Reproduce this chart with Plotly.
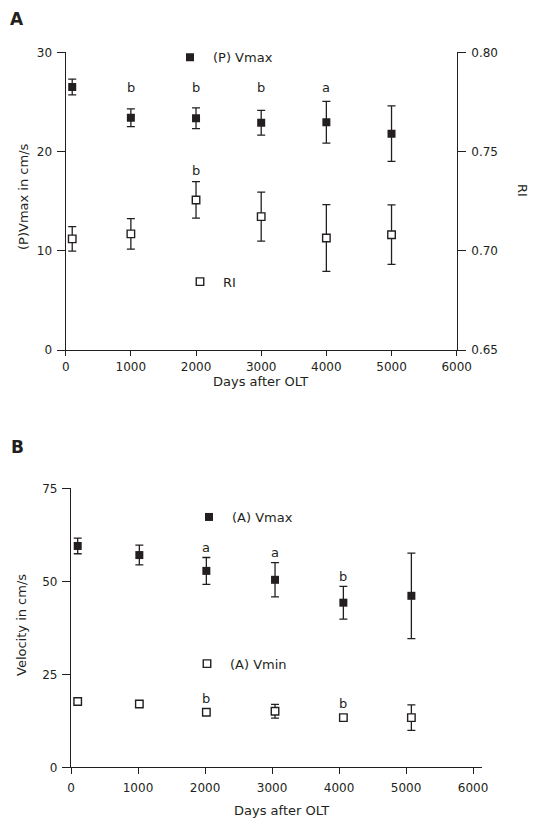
import plotly.graph_objects as go

# ---------------- data ----------------
# Panel A
a_days = [100, 1000, 2000, 3000, 4000, 5000]
p_vmax = [26.5, 23.4, 23.35, 22.9, 22.95, 21.8]
p_vmax_err = [0.8, 0.9, 1.05, 1.25, 2.1, 2.8]
p_vmax_sig = ["", "b", "b", "b", "a", ""]
ri = [0.706, 0.7085, 0.7256, 0.7172, 0.7064, 0.7081]
ri_err = [0.0062, 0.0077, 0.0092, 0.0123, 0.0168, 0.015]
ri_sig = ["", "", "b", "", "", ""]

# Panel B
b_days = [100, 1020, 2020, 3045, 4065, 5080]
a_vmax = [59.5, 57.05, 52.8, 50.4, 44.25, 46.1]
a_vmax_err = [2.1, 2.65, 3.6, 4.6, 4.4, 11.5]
a_vmax_sig = ["", "", "a", "a", "b", ""]
a_vmin = [17.7, 17.0, 14.8, 15.05, 13.35, 13.35]
a_vmin_err = [0.5, 0.5, 0.5, 1.85, 0.5, 3.45]
a_vmin_sig = ["", "", "b", "", "b", ""]

x_ticks = [0, 1000, 2000, 3000, 4000, 5000, 6000]
a_left_ticks = [0, 10, 20, 30]
a_right_ticks = [0.65, 0.70, 0.75, 0.80]
b_left_ticks = [0, 25, 50, 75]

# ---------------- style ----------------
# the page body has an 8px default margin; the figure is sized to fill the
# remaining window and positions below are given in window pixels
OFF = 8
W, H = 543 - OFF, 824 - OFF
INK = "#231f20"
FONT = "DejaVu Sans"


def px_x(p):
    return (p - OFF) / W


def px_y(p):
    return 1 - (p - OFF) / H


def err(vals):
    return dict(type="data", array=vals, visible=True, color=INK, thickness=1.3, width=4)


filled = dict(symbol="square", size=8, color=INK, line=dict(width=0))
hollow = dict(symbol="square", size=7.5, color="white", line=dict(width=1.4, color=INK))

fig = go.Figure()
fig.add_trace(go.Scatter(x=a_days, y=p_vmax, mode="markers", marker=filled,
                         error_y=err(p_vmax_err), name="(P) Vmax",
                         xaxis="x", yaxis="y", legend="legend"))
fig.add_trace(go.Scatter(x=a_days, y=ri, mode="markers", marker=hollow,
                         error_y=err(ri_err), name="RI",
                         xaxis="x", yaxis="y2", legend="legend2"))
fig.add_trace(go.Scatter(x=b_days, y=a_vmax, mode="markers", marker=filled,
                         error_y=err(a_vmax_err), name="(A) Vmax",
                         xaxis="x2", yaxis="y3", legend="legend3"))
fig.add_trace(go.Scatter(x=b_days, y=a_vmin, mode="markers", marker=hollow,
                         error_y=err(a_vmin_err), name="(A) Vmin",
                         xaxis="x2", yaxis="y3", legend="legend4"))

annotations = []


def add_sig(xs, ys, es, sig, xref, yref, shift, common=False):
    tops = [y + e for y, e in zip(ys, es)]
    flagged = [t for t, s in zip(tops, sig) if s]
    level = max(flagged) if flagged else 0
    for x, t, s in zip(xs, tops, sig):
        if not s:
            continue
        annotations.append(dict(x=x, y=level if common else t, xref=xref, yref=yref,
                                text=s, showarrow=False, yanchor="middle",
                                yshift=shift, font=dict(size=13, color=INK, family=FONT)))


add_sig(a_days, p_vmax, p_vmax_err, p_vmax_sig, "x", "y", 13.5, common=True)
add_sig(a_days, ri, ri_err, ri_sig, "x", "y2", 11.5)
add_sig(b_days, a_vmax, a_vmax_err, a_vmax_sig, "x2", "y3", 10)
add_sig(b_days, a_vmin, a_vmin_err, a_vmin_sig, "x2", "y3", 12)


def text(px, py, s, size=13, angle=0, bold=False):
    annotations.append(dict(x=px_x(px), y=px_y(py), xref="paper", yref="paper",
                            text=f"<b>{s}</b>" if bold else s, showarrow=False,
                            textangle=angle, xanchor="center", yanchor="middle",
                            font=dict(size=size, color=INK, family=FONT)))


text(17, 19, "A", size=17, bold=True)
text(17, 447, "B", size=17, bold=True)
text(23, 197, "(P)Vmax in cm/s", angle=-90)
text(523, 190, "RI", angle=90)
text(260, 382, "Days after OLT")
text(21, 625, "Velocity in cm/s", angle=-90)
text(281, 810, "Days after OLT")

axis_common = dict(showline=True, linecolor=INK, linewidth=1.3, ticks="outside",
                   tickcolor=INK, tickwidth=1.3, showgrid=False, zeroline=False,
                   tickfont=dict(size=12, color=INK, family=FONT), automargin=False)

legend_common = dict(bgcolor="rgba(0,0,0,0)", borderwidth=0, xanchor="left",
                     yanchor="middle", itemwidth=36,
                     font=dict(size=13, color=INK, family=FONT))

fig.update_layout(
    width=W, height=H, margin=dict(l=0, r=0, t=0, b=0),
    paper_bgcolor="white", plot_bgcolor="white", showlegend=True,
    xaxis=dict(domain=[px_x(65.7), px_x(456.7)], range=[0, 6000], anchor="y",
               tickvals=x_ticks, ticklen=5, ticklabelstandoff=0, **axis_common),
    yaxis=dict(domain=[px_y(350), px_y(52.3)], range=[0, 30], anchor="x",
               tickvals=a_left_ticks, ticklen=8, ticklabelstandoff=2, **axis_common),
    yaxis2=dict(range=[0.65, 0.80], overlaying="y", side="right", anchor="x",
                tickvals=a_right_ticks, tickformat=".2f", ticklen=8,
                ticklabelstandoff=3, **axis_common),
    xaxis2=dict(domain=[px_x(71), px_x(482)], range=[0, 6134], anchor="y3",
                tickvals=x_ticks, ticklen=6, ticklabelstandoff=3, **axis_common),
    yaxis3=dict(domain=[px_y(767.3), px_y(488.3)], range=[0, 75], anchor="x2",
                tickvals=b_left_ticks, ticklen=8, ticklabelstandoff=2, **axis_common),
    legend=dict(x=px_x(167), y=px_y(57.3), **legend_common),
    legend2=dict(x=px_x(177), y=px_y(281.7), **legend_common),
    legend3=dict(x=px_x(186), y=px_y(517), **legend_common),
    legend4=dict(x=px_x(184), y=px_y(663.7), **legend_common),
    annotations=annotations,
)

fig.write_html("out.html")
